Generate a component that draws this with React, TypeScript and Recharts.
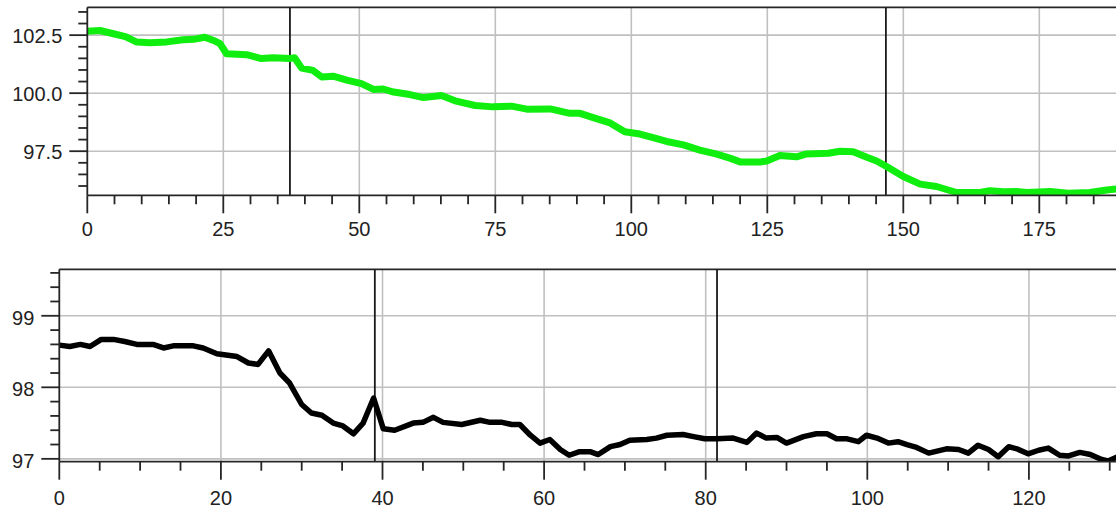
import React from 'react';
import { LineChart, Line, XAxis, YAxis, ReferenceLine } from 'recharts';

// upper panel (green)
const topX = [
  0, 2.3, 4.8, 7.0, 9.1, 11.5, 14.6, 17.6, 19.5, 21.6, 23.2, 24.4, 25.6, 29.3,
  32.0, 34.2, 37.2, 38.1, 39.4, 41.5, 43.1, 45.2, 47.7, 50.4, 52.6, 54.4, 56.3,
  59.3, 61.8, 65.1, 67.6, 71.3, 74.6, 78.0, 80.8, 85.1, 88.7, 90.6, 93.0, 96.1,
  98.8, 101.6, 104.0, 106.5, 109.6, 112.6, 115.7, 118.1, 120.0, 123.6, 124.9,
  127.3, 130.4, 132.2, 136.2, 138.4, 140.8, 143.3, 145.1, 147.0, 150.0, 153.1,
  156.1, 159.8, 164.1, 165.9, 168.4, 170.8, 172.7, 177.0, 180.3, 184.3, 187.4,
  190,
];
const topY = [
  102.67, 102.7, 102.56, 102.44, 102.2, 102.17, 102.21, 102.3, 102.32, 102.41,
  102.27, 102.13, 101.7, 101.66, 101.49, 101.53, 101.49, 101.53, 101.08, 100.98,
  100.7, 100.73, 100.56, 100.41, 100.16, 100.18, 100.05, 99.94, 99.81, 99.9,
  99.67, 99.47, 99.41, 99.44, 99.31, 99.32, 99.13, 99.13, 98.95, 98.72, 98.34,
  98.24, 98.08, 97.92, 97.77, 97.55, 97.37, 97.2, 97.04, 97.03, 97.08, 97.31,
  97.26, 97.38, 97.41, 97.5, 97.48, 97.24, 97.08, 96.83, 96.41, 96.08, 95.98,
  95.72, 95.72, 95.8, 95.75, 95.76, 95.72, 95.76, 95.69, 95.72, 95.83, 95.9,
];
const topXTicks = [
  0, 5, 10, 15, 20, 25, 30, 35, 40, 45, 50, 55, 60, 65, 70, 75, 80, 85, 90, 95,
  100, 105, 110, 115, 120, 125, 130, 135, 140, 145, 150, 155, 160, 165, 170,
  175, 180, 185,
];
const topXLabels = [0, 25, 50, 75, 100, 125, 150, 175];
const topYTicks = [
  96, 96.5, 97, 97.5, 98, 98.5, 99, 99.5, 100, 100.5, 101, 101.5, 102, 102.5,
  103, 103.5,
];
const topYLabels = [97.5, 100, 102.5];
const topMarkers = [37.25, 146.8];

// lower panel (black)
const bottomX = [
  0, 1.3, 2.6, 3.8, 5.2, 6.7, 8.1, 9.6, 11.6, 12.9, 14.1, 16.6, 17.8, 19.5,
  22.0, 23.4, 24.6, 25.9, 27.3, 28.5, 30.0, 31.2, 32.5, 33.9, 35.1, 36.4, 37.6,
  38.9, 40.1, 41.5, 43.8, 45.0, 46.3, 47.5, 49.8, 52.1, 53.3, 54.8, 56.0, 57.0,
  58.3, 59.5, 60.7, 62.0, 63.1, 64.4, 65.7, 66.7, 68.2, 69.4, 70.6, 72.7, 73.9,
  75.2, 77.2, 78.5, 79.9, 81.4, 83.4, 85.1, 86.3, 87.5, 88.8, 90.0, 92.1, 93.7,
  95.0, 96.2, 97.5, 98.9, 99.9, 101.2, 102.6, 103.8, 104.9, 106.1, 107.6,
  109.8, 111.3, 112.5, 113.7, 115.0, 116.2, 117.5, 118.5, 119.9, 121.2, 122.4,
  123.8, 124.9, 126.3, 127.6, 129.0, 129.8, 131,
];
const bottomY = [
  98.59, 98.57, 98.6, 98.57, 98.67, 98.67, 98.64, 98.6, 98.6, 98.55, 98.58,
  98.58, 98.55, 98.47, 98.43, 98.34, 98.32, 98.51, 98.2, 98.06, 97.76, 97.64,
  97.61, 97.5, 97.46, 97.35, 97.5, 97.85, 97.42, 97.4, 97.5, 97.51, 97.58,
  97.51, 97.48, 97.54, 97.51, 97.51, 97.48, 97.48, 97.33, 97.22, 97.27, 97.13,
  97.05, 97.1, 97.1, 97.06, 97.17, 97.2, 97.26, 97.27, 97.29, 97.33, 97.34,
  97.31, 97.28, 97.28, 97.29, 97.23, 97.36, 97.29, 97.3, 97.22, 97.31, 97.35,
  97.35, 97.28, 97.28, 97.24, 97.33, 97.29, 97.22, 97.24, 97.2, 97.16, 97.08,
  97.14, 97.13, 97.08, 97.19, 97.13, 97.03, 97.17, 97.14, 97.07, 97.12, 97.15,
  97.05, 97.04, 97.09, 97.06, 96.99, 96.97, 97.03,
];
const bottomXTicks = [
  0, 5, 10, 15, 20, 25, 30, 35, 40, 45, 50, 55, 60, 65, 70, 75, 80, 85, 90, 95,
  100, 105, 110, 115, 120, 125, 130,
];
const bottomXLabels = [0, 20, 40, 60, 80, 100, 120];
const bottomYTicks = [97, 97.2, 97.4, 97.6, 97.8, 98, 98.2, 98.4, 98.6, 98.8, 99, 99.2, 99.4, 99.6];
const bottomYLabels = [97, 98, 99];
const bottomMarkers = [39.05, 81.4];

const topDomainX: [number, number] = [0, 190];
const topDomainY: [number, number] = [95.6, 103.7];
const bottomDomainX: [number, number] = [0, 131];
const bottomDomainY: [number, number] = [96.96, 99.65];

const AXIS = '#262626';
const GRID = '#c0c0c0';
const FONT = '"Liberation Sans", Arial, sans-serif';
const FONT_SIZE = 20;

const isMajor = (majors: number[], v: number) =>
  majors.some((m) => Math.abs(m - v) < 1e-6);

const makeXTick =
  (majors: number[], labelDy: number) =>
  (props: any) => {
    const { x, y, payload } = props;
    const major = isMajor(majors, payload.value);
    return (
      <g>
        <line x1={x} x2={x} y1={y} y2={y + (major ? 18 : 9)} stroke={AXIS} strokeWidth={1.8} />
        {major && (
          <text x={x} y={y + labelDy} textAnchor="middle" fontSize={FONT_SIZE} fontFamily={FONT} fill="#222">
            {payload.value}
          </text>
        )}
      </g>
    );
  };

const makeYTick =
  (majors: number[], fmt: (v: number) => string, labelDy: number) =>
  (props: any) => {
    const { x, y, payload } = props;
    const major = isMajor(majors, payload.value);
    return (
      <g>
        <line x1={x - (major ? 18 : 9)} x2={x} y1={y} y2={y} stroke={AXIS} strokeWidth={1.8} />
        {major && (
          <text x={x - 25} y={y + labelDy} textAnchor="end" fontSize={FONT_SIZE} fontFamily={FONT} fill="#222">
            {fmt(payload.value)}
          </text>
        )}
      </g>
    );
  };

const topData = topX.map((x, i) => ({ x, y: topY[i] }));
const bottomData = bottomX.map((x, i) => ({ x, y: bottomY[i] }));

const App: React.FC = () => {
  return (
    <div
      style={{
        position: 'absolute',
        left: 0,
        top: 0,
        width: 1116,
        height: 508,
        overflow: 'hidden',
        background: '#fff',
      }}
    >
      <div style={{ position: 'absolute', left: 0, top: 0 }}>
        <LineChart
          width={1130}
          height={245}
          data={topData}
          margin={{ top: 7.3, right: 9.1, left: 0, bottom: 9.7 }}
        >
          <XAxis
            dataKey="x"
            type="number"
            domain={topDomainX}
            allowDataOverflow
            ticks={topXTicks}
            interval={0}
            height={40}
            tickSize={0}
            tickMargin={0}
            tickLine={false}
            axisLine={{ stroke: AXIS, strokeWidth: 1.8 }}
            tick={makeXTick(topXLabels, 41)}
          />
          <YAxis
            dataKey="y"
            type="number"
            domain={topDomainY}
            allowDataOverflow
            ticks={topYTicks}
            interval={0}
            width={87.3}
            tickSize={0}
            tickMargin={0}
            tickLine={false}
            axisLine={{ stroke: AXIS, strokeWidth: 1.8 }}
            tick={makeYTick(topYLabels, (v) => v.toFixed(1), 8)}
          />
          {topXLabels.slice(1).map((v) => (
            <ReferenceLine key={'gx' + v} x={v} stroke={GRID} strokeWidth={1.6} />
          ))}
          {topYLabels.map((v) => (
            <ReferenceLine key={'gy' + v} y={v} stroke={GRID} strokeWidth={1.6} />
          ))}
          <ReferenceLine y={topDomainY[1]} stroke={AXIS} strokeWidth={1.8} />
          {topMarkers.map((v) => (
            <ReferenceLine key={'m' + v} x={v} stroke="#1a1a1a" strokeWidth={1.8} />
          ))}
          <Line
            type="linear"
            dataKey="y"
            stroke="#10ee10"
            strokeWidth={7}
            strokeLinejoin="round"
            dot={false}
            isAnimationActive={false}
          />
        </LineChart>
      </div>
      <div style={{ position: 'absolute', left: 0, top: 250 }}>
        <LineChart
          width={1125}
          height={258}
          data={bottomData}
          margin={{ top: 19.3, right: 7.2, left: 0, bottom: 6.3 }}
        >
          <XAxis
            dataKey="x"
            type="number"
            domain={bottomDomainX}
            allowDataOverflow
            ticks={bottomXTicks}
            interval={0}
            height={40}
            tickSize={0}
            tickMargin={0}
            tickLine={false}
            axisLine={{ stroke: AXIS, strokeWidth: 1.8 }}
            tick={makeXTick(bottomXLabels, 43)}
          />
          <YAxis
            dataKey="y"
            type="number"
            domain={bottomDomainY}
            allowDataOverflow
            ticks={bottomYTicks}
            interval={0}
            width={59.3}
            tickSize={0}
            tickMargin={0}
            tickLine={false}
            axisLine={{ stroke: AXIS, strokeWidth: 1.8 }}
            tick={makeYTick(bottomYLabels, (v) => String(v), 9)}
          />
          {bottomXLabels.slice(1).map((v) => (
            <ReferenceLine key={'gx' + v} x={v} stroke={GRID} strokeWidth={1.6} />
          ))}
          {bottomYLabels.map((v) => (
            <ReferenceLine key={'gy' + v} y={v} stroke={GRID} strokeWidth={1.6} />
          ))}
          <ReferenceLine y={bottomDomainY[1]} stroke={AXIS} strokeWidth={1.8} />
          {bottomMarkers.map((v) => (
            <ReferenceLine key={'m' + v} x={v} stroke="#1a1a1a" strokeWidth={1.8} />
          ))}
          <Line
            type="linear"
            dataKey="y"
            stroke="#000"
            strokeWidth={5.5}
            strokeLinejoin="round"
            dot={false}
            isAnimationActive={false}
          />
        </LineChart>
      </div>
    </div>
  );
};

export default App;
